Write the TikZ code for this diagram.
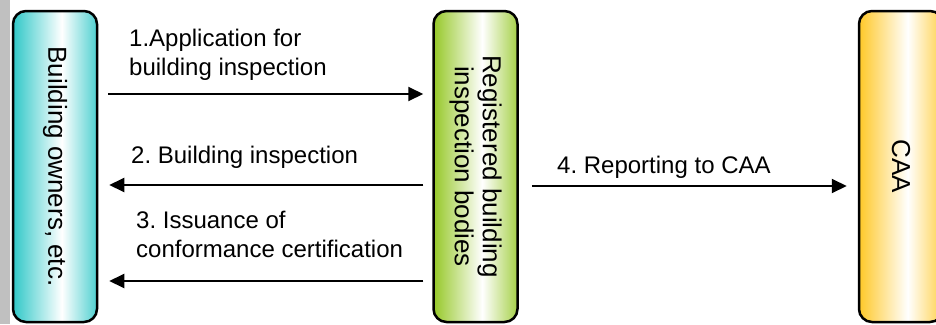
\documentclass[tikz,border=0pt]{standalone}
\usepackage{fontspec}
\setmainfont{Liberation Sans}
\usetikzlibrary{arrows.meta}
\frenchspacing
\definecolor{cyanC}{RGB}{48,200,200}
\definecolor{greenC}{RGB}{150,200,40}
\definecolor{orangeC}{RGB}{255,200,40}
\definecolor{barC}{RGB}{192,192,192}
\pgfdeclarehorizontalshading{cyanshade}{100bp}{color(0bp)=(cyanC); color(25bp)=(cyanC); color(54bp)=(white); color(75bp)=(cyanC!85); color(100bp)=(cyanC!85)}
\pgfdeclarehorizontalshading{greenshade}{100bp}{color(0bp)=(greenC); color(25bp)=(greenC); color(54bp)=(white); color(75bp)=(greenC!85); color(100bp)=(greenC!85)}
\pgfdeclarehorizontalshading{orangeshade}{100bp}{color(0bp)=(orangeC); color(25bp)=(orangeC); color(54bp)=(white); color(75bp)=(orangeC!85); color(100bp)=(orangeC!85)}
\tikzset{
  actor/.style={draw=black, line width=2.5pt, rounded corners=13pt, minimum width=84pt, minimum height=311pt, inner sep=0pt},
  vlabel/.style={rotate=-90, align=center, inner sep=0pt, font=\fontsize{26}{28}\selectfont},
  alabel/.style={anchor=base west, align=left, inner sep=0pt, font=\fontsize{24}{28.5}\selectfont},
  arr/.style={line width=2pt, -{Triangle[length=15pt,width=14pt]}}
}
\begin{document}
\begin{tikzpicture}[x=1pt,y=-1pt]
\clip (0,0) rectangle (936,324);
\fill[white] (0,0) rectangle (936,324);
\fill[barC] (0,0) rectangle (10,324);
% boxes
\node[actor, shading=cyanshade] (own) at (55,166.5) {};
\node[actor, shading=greenshade] (rib) at (475.5,166.5) {};
\node[actor, shading=orangeshade] (caa) at (901,166.5) {};
\node[vlabel] (ownl) at (own.center) {Building owners, etc.};
\node[vlabel] (ribl) at (rib.center) {Registered building\\inspection bodies};
\node[vlabel] (caal) at (caa.center) {CAA};
% levels
\coordinate (y1) at (0,94);
\coordinate (y2) at (0,185);
\coordinate (y3) at (0,281);
\coordinate (y4) at (0,186);
% arrows
\draw[arr, shorten <=10pt, shorten >=9pt] (own.east |- y1) -- (rib.west |- y1);
\draw[arr, shorten <=9pt, shorten >=11pt] (rib.west |- y2) -- (own.east |- y2);
\draw[arr, shorten <=9pt, shorten >=11pt] (rib.west |- y3) -- (own.east |- y3);
\draw[arr, shorten <=13pt, shorten >=11pt] (rib.east |- y4) -- (caa.west |- y4);
% labels (base anchor = baseline of last line)
\node[alabel] (l1) at (129,75) {1.Application for\\building inspection};
\node[alabel] (l2) at (131,163) {2. Building inspection};
\node[alabel] (l3) at (136,257) {3. Issuance of\\conformance certification};
\node[alabel] (l4) at (557,173) {4. Reporting to CAA};
\end{tikzpicture}
\end{document}
